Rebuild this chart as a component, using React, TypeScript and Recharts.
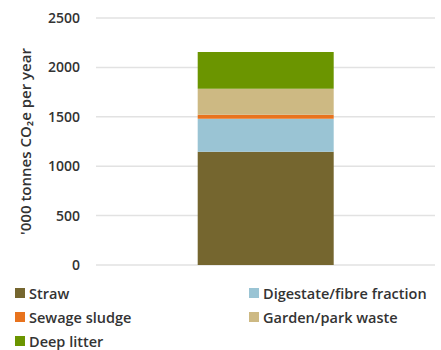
import { BarChart, Bar, XAxis, YAxis, CartesianGrid, Legend } from 'recharts';

const categories = ['Total'];
const straw = [1145];
const digestate = [335];
const sewage = [40];
const garden = [265];
const deepLitter = [370];
const yTicks = [0, 500, 1000, 1500, 2000, 2500];

const series = [
  { key: 'straw', name: 'Straw', color: '#75662f', values: straw },
  { key: 'digestate', name: 'Digestate/fibre fraction', color: '#9ac4d4', values: digestate },
  { key: 'sewage', name: 'Sewage sludge', color: '#e8731e', values: sewage },
  { key: 'garden', name: 'Garden/park waste', color: '#cdb983', values: garden },
  { key: 'deepLitter', name: 'Deep litter', color: '#6b9500', values: deepLitter },
];

const data = categories.map((c, i) => {
  const row: any = { name: c };
  series.forEach(s => { row[s.key] = s.values[i]; });
  return row;
});

const FONT = '"Open Sans", "DejaVu Sans", sans-serif';

// legend laid out in two columns like the original
const LegendBox = () => (
  <div style={{
    height: 85, boxSizing: 'border-box', paddingTop: 16,
    display: 'grid', gridTemplateColumns: '234px 192px', paddingLeft: 15,
    gridAutoRows: '24px', fontFamily: FONT, fontSize: 14.5, fontWeight: 600, color: '#333',
    textAlign: 'left',
  }}>
    {series.map(s => (
      <div key={s.key} style={{ display: 'flex', alignItems: 'center', whiteSpace: 'nowrap' }}>
        <span style={{ width: 10, height: 10, background: s.color, display: 'inline-block', marginRight: 4 }} />
        <span>{s.name}</span>
      </div>
    ))}
  </div>
);

export default function App() {
  return (
    <div style={{ position: 'absolute', left: 0, top: 0, width: 441, height: 350, background: '#fff' }}>
      <BarChart width={441} height={350} data={data} barCategoryGap="30%"
        margin={{ top: 18, right: 6, left: 0, bottom: 0 }}>
        <CartesianGrid vertical={false} stroke="#e2e2e2" strokeWidth={1.5} />
        <XAxis dataKey="name" hide />
        <YAxis
          width={96}
          domain={[0, 2500]}
          ticks={yTicks}
          axisLine={false}
          tickLine={false}
          tickSize={0}
          tickMargin={16}
          tick={{ fontSize: 14, fill: '#333', fontFamily: FONT, fontWeight: 600 }}
          label={{
            value: "'000 tonnes CO₂e per year",
            angle: -90,
            position: 'insideLeft',
            offset: 26,
            style: { textAnchor: 'middle', fontSize: 15, fill: '#333', fontFamily: FONT, fontWeight: 600 },
          }}
        />
        {series.map(s => (
          <Bar key={s.key} dataKey={s.key} name={s.name} stackId="a" fill={s.color} isAnimationActive={false} />
        ))}
        <Legend verticalAlign="bottom" content={<LegendBox />} />
      </BarChart>
    </div>
  );
}
